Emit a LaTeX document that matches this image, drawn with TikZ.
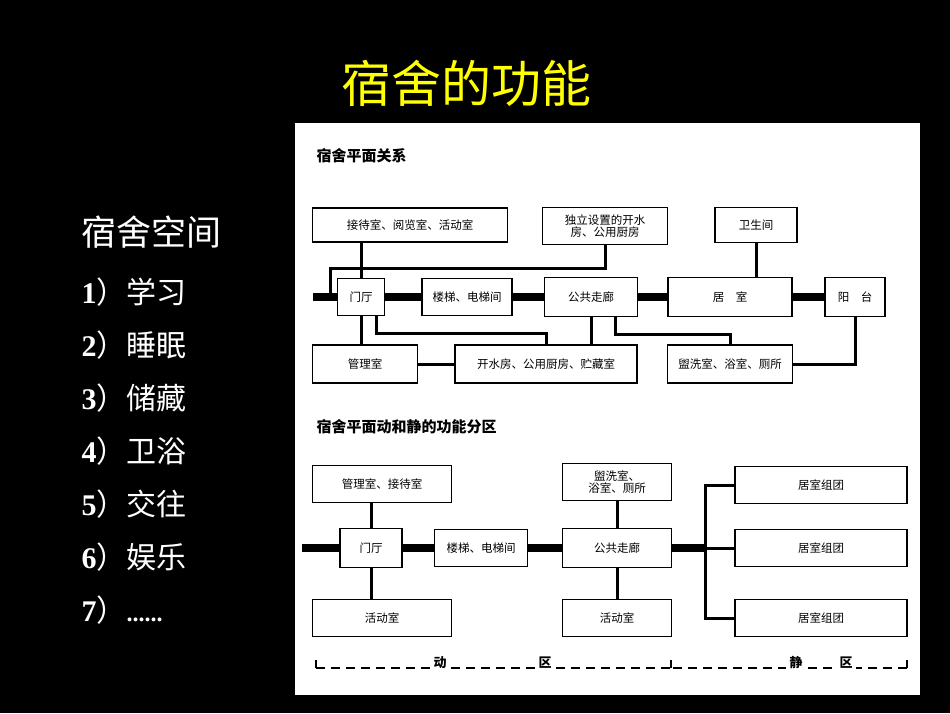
\documentclass[tikz,border=0pt]{standalone}
\usepackage{fontspec}
\newfontfamily\cjk{Noto Sans CJK SC}
\newfontfamily\numfont{Liberation Serif}
\tikzset{
  room/.style={draw, line width=1.6pt, fill=white, inner sep=1pt, align=center,
    font=\cjk\fontsize{11.5}{13}\selectfont},
  link/.style={line width=3pt},
  hall/.style={line width=8pt},
  item/.style={anchor=west, text=white, font=\fontsize{30}{32}\selectfont}
}
\begin{document}
\begin{tikzpicture}[x=1pt, y=-1pt]

% background and panel
\fill[black] (0,0) rectangle (950,713);
\useasboundingbox (0,0) rectangle (950,713);
\fill[white] (295,123) rectangle (920,695);

% titles and list
\node[text={rgb,255:red,255;green,255;blue,0}, font=\cjk\fontsize{50}{54}\selectfont] (title) at (466,83) {宿舍的功能};
\node[text=white, anchor=west, font=\cjk\fontsize{35}{38}\selectfont] (space) at (78,232) {宿舍空间};
\foreach \n/\t [count=\i] in {1/学习,2/睡眠,3/储藏,4/卫浴,5/交往,6/娱乐} {
  \node[item] (item\i) at (78,239+\i*53) {{\numfont\bfseries \n}{\cjk ）\t}};
}
\node[item] (item7) at (78,610) {{\numfont\bfseries 7}{\cjk ）}{\numfont\bfseries\fontsize{24}{26}\selectfont ......}};

% upper diagram
\node[anchor=west, font=\cjk\bfseries\fontsize{15}{17}\selectfont] (head1) at (313,156) {宿舍平面关系};
\node[room, minimum width=195, minimum height=34] (recep) at (410,225) {接待室、阅览室、活动室};
\node[room, minimum width=125, minimum height=37, font=\cjk\fontsize{11.5}{12.5}\selectfont] (kettle) at (605,226) {独立设置的开水\\房、公用厨房};
\node[room, minimum width=82, minimum height=35] (bath) at (756,225) {卫生间};
\node[room, minimum width=47, minimum height=37] (hallA) at (361,297) {门厅};
\node[room, minimum width=90, minimum height=37] (stairA) at (467,297) {楼梯、电梯间};
\node[room, minimum width=93, minimum height=39] (corrA) at (591,297) {公共走廊};
\node[room, minimum width=124, minimum height=39] (dormA) at (730,297) {居\quad 室};
\node[room, minimum width=60, minimum height=39] (balc) at (855,297) {阳\quad 台};
\node[room, minimum width=105, minimum height=38] (mgr) at (365,364) {管理室};
\node[room, minimum width=182, minimum height=38] (store) at (546,364) {开水房、公用厨房、贮藏室};
\node[room, minimum width=125, minimum height=38] (wash) at (730,364) {盥洗室、浴室、厕所};
\coordinate (westA) at (313,297);
\coordinate (entry) at (330,297);

\draw[hall] (westA) -- (hallA.west);
\draw[hall] (hallA) -- (stairA);
\draw[hall] (stairA) -- (corrA);
\draw[hall] (corrA) -- (dormA);
\draw[hall] (dormA) -- (balc);
\draw[link] (recep.south -| hallA) -- (hallA.north);
\draw[link] (kettle.south) -- ++(0,23) -| (entry);
\draw[link] (bath.south) -- (bath.south |- dormA.north);
\draw[link] (hallA.south) -- (mgr.north -| hallA);
\draw[link] ([xshift=15pt]hallA.south) -- ++(0,17) -| (store.north);
\draw[link] (corrA.south) -- (store.north -| corrA);
\draw[link] ([xshift=24pt]corrA.south) -- ++(0,17) -| (wash.north);
\draw[link] (mgr) -- (store);
\draw[link] (wash.east) -| (balc.south);

% lower diagram
\node[anchor=west, font=\cjk\bfseries\fontsize{15}{17}\selectfont] (head2) at (313,427) {宿舍平面动和静的功能分区};
\node[room, minimum width=139, minimum height=37] (mgrB) at (382,484) {管理室、接待室};
\node[room, minimum width=62, minimum height=39] (hallB) at (371,548) {门厅};
\node[room, minimum width=93, minimum height=37] (stairB) at (481,548) {楼梯、电梯间};
\node[room, minimum width=109, minimum height=39] (corrB) at (617,548) {公共走廊};
\node[room, minimum width=109, minimum height=37, font=\cjk\fontsize{11.5}{12.5}\selectfont] (washB) at (617,482) {盥洗室、\\浴室、厕所};
\node[room, minimum width=139, minimum height=37] (actL) at (382,618) {活动室};
\node[room, minimum width=109, minimum height=37] (actM) at (617,618) {活动室};
\foreach \i/\y in {1/485,2/548,3/618} {
  \node[room, minimum width=172, minimum height=37] (group\i) at (821,\y) {居室组团};
}
\coordinate (westB) at (302,548);
\coordinate (fork) at (705,548);

\draw[hall] (westB) -- (hallB.west);
\draw[hall] (hallB) -- (stairB);
\draw[hall] (stairB) -- (corrB);
\draw[hall] (corrB) -- (fork);
\draw[link] (mgrB.south -| hallB) -- (hallB.north);
\draw[link] (hallB.south) -- (actL.north -| hallB);
\draw[link] (washB) -- (corrB);
\draw[link] (corrB) -- (actM);
\draw[link] (group1.west) -| (fork) |- (group3.west);
\draw[link] (fork) -- (group2.west);

% zones
\draw[line width=1.2pt, dash pattern=on 9pt off 6pt] (316,668) -- (670,668);
\draw[line width=1.2pt, dash pattern=on 9pt off 6pt] (673,668) -- (907,668);
\draw[line width=1.2pt] (316,660) -- (316,668) (671,660) -- (671,668) (907,660) -- (907,668);
\node[fill=white, font=\cjk\bfseries\fontsize{13}{15}\selectfont] (move) at (440,663) {动};
\node[fill=white, font=\cjk\bfseries\fontsize{13}{15}\selectfont] (moveB) at (545,663) {区};
\node[fill=white, font=\cjk\bfseries\fontsize{13}{15}\selectfont] (still) at (796,663) {静};
\node[fill=white, font=\cjk\bfseries\fontsize{13}{15}\selectfont] (stillB) at (846,663) {区};

\end{tikzpicture}
\end{document}
